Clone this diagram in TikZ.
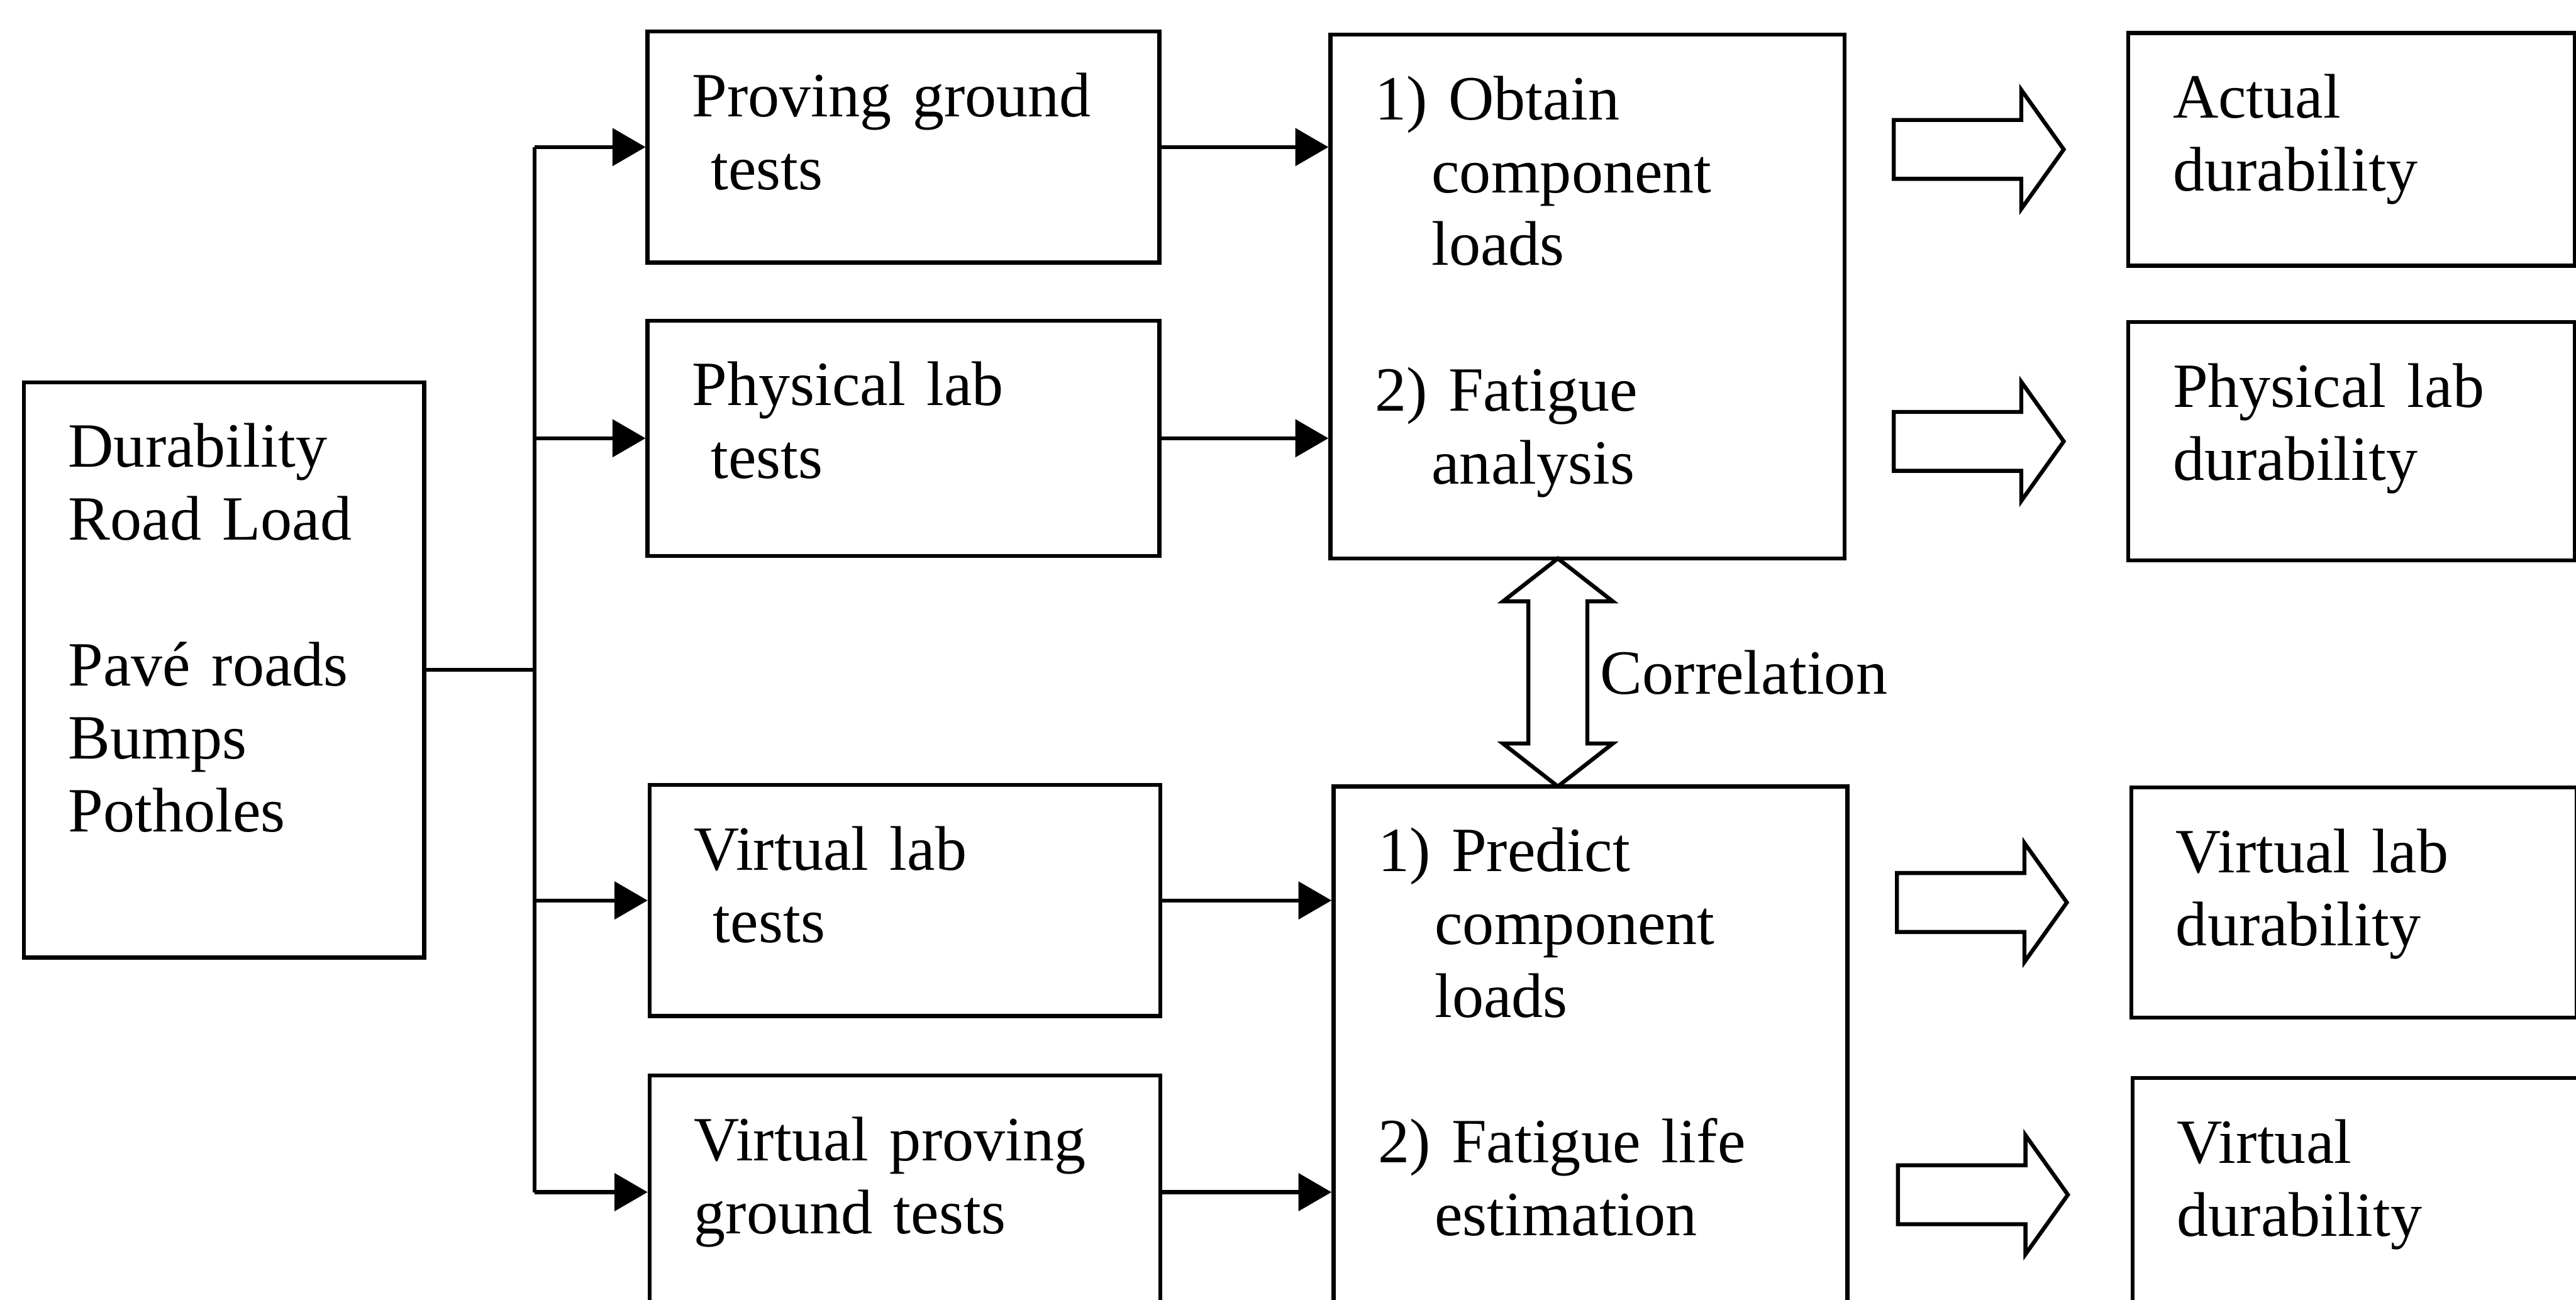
\documentclass[tikz,border=0pt]{standalone}
\usepackage{fontspec}
\setmainfont{Liberation Serif}
\usetikzlibrary{positioning,arrows.meta,shapes.arrows,calc}

\tikzset{
	blk/.style 2 args={draw, line width=1.1pt, anchor=north west, align=left,
		inner xsep=0.43cm, inner ysep=0pt, text height=0.82cm,
		text width=#1cm-0.86cm, text depth=#2cm-0.82cm},
	link/.style={line width=1.1pt, -{Triangle[length=0.32cm,width=0.36cm]}},
	fat/.style={draw, single arrow, line width=1.1pt, inner xsep=0pt, inner ysep=0.265cm,
		minimum height=1.64cm, minimum width=1.13cm,
		single arrow head extend=0.29cm, single arrow tip angle=109},
	dbl/.style={draw, double arrow, line width=1.1pt, inner sep=0.265cm,
		shape border rotate=90, minimum height=2.2cm, minimum width=1.05cm,
		double arrow head extend=0.245cm, double arrow tip angle=104},
}

\begin{document}
\begin{tikzpicture}[font=\fontsize{17.3}{20}\selectfont]
			\useasboundingbox (0,0) rectangle (24.86,12.545);
			\clip (0,0) rectangle (24.86,12.545);

			\node	(src) at (0.21,8.875) [blk={3.865}{5.55}] {Durability\\Road Load\\[20pt]Pavé roads\\Bumps\\Potholes};

			\node	(pg) at (6.23,12.26) [blk={4.94}{2.23}] {Proving ground\\\hspace*{0.3em}tests};
			\node	(pl) at (6.23,9.47) [blk={4.94}{2.27}] {Physical lab\\\hspace*{0.3em}tests};
			\node	(vl) at (6.25,4.99) [blk={4.93}{2.23}] {Virtual lab\\\hspace*{0.3em}tests};
			\node	(vpg) at (6.25,2.185) [blk={4.93}{2.25}] {Virtual proving\\ground tests};

			\node	(obt) at (12.82,12.23) [blk={4.96}{5.055}] {1) Obtain\\\hspace*{0.9em}component\\\hspace*{0.9em}loads\\[20pt]2) Fatigue\\\hspace*{0.9em}analysis};
			\node	(pre) at (12.85,4.975) [blk={4.96}{5.055}] {1) Predict\\\hspace*{0.9em}component\\\hspace*{0.9em}loads\\[20pt]2) Fatigue life\\\hspace*{0.9em}estimation};

			\node	(act) at (20.52,12.245) [blk={4.31}{2.245}] {Actual\\durability};
			\node	(pld) at (20.52,9.455) [blk={4.31}{2.3}] {Physical lab\\durability};
			\node	(vld) at (20.55,4.965) [blk={4.3}{2.22}] {Virtual lab\\durability};
			\node	(vd) at (20.56,2.16) [blk={4.3}{2.25}] {Virtual\\durability};

			\foreach \n in {act,pld,vld,vd}
				\node	(fat-\n) [fat, left=0.58cm of \n] {};

			\node	(cor) at ($(obt.south)!0.5!(pre.north)+(-0.3,0)$) [dbl] {};
			\node	(corlbl) [right=0.1cm of cor, inner sep=0pt] {Correlation};

			\coordinate (bus) at (5.16,0 |- src.east);

			\draw[line width=1.1pt]
			(src.east) edge (bus)
			(bus |- pg.west) edge (bus |- vpg.west)
			;
			\draw
			(bus |- pg.west) edge[link] (pg.west)
			(bus |- pl.west) edge[link] (pl.west)
			(bus |- vl.west) edge[link] (vl.west)
			(bus |- vpg.west) edge[link] (vpg.west)
			(pg.east) edge[link] (pg.east -| obt.west)
			(pl.east) edge[link] (pl.east -| obt.west)
			(vl.east) edge[link] (vl.east -| pre.west)
			(vpg.east) edge[link] (vpg.east -| pre.west)
			;
		\end{tikzpicture}
\end{document}
